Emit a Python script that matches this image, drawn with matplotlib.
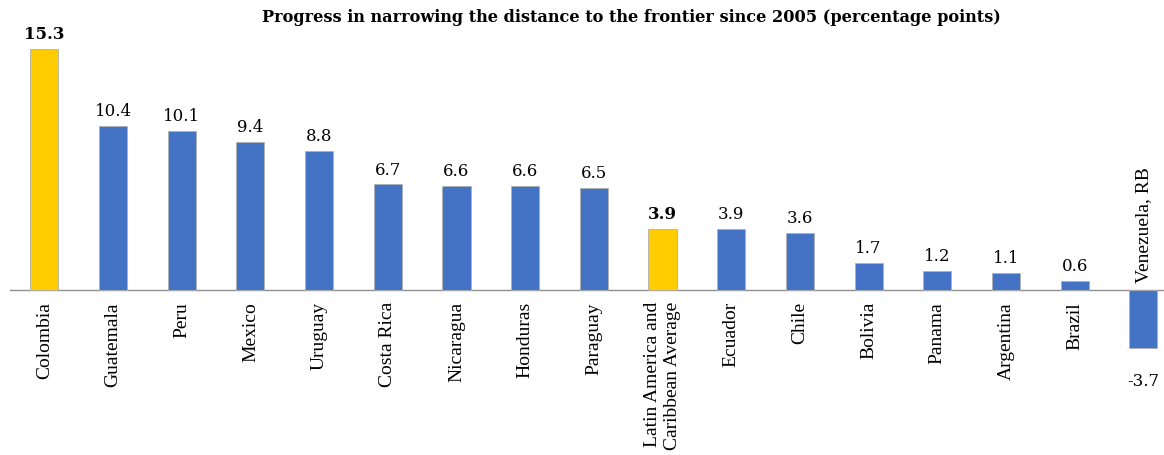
import matplotlib
matplotlib.use("Agg")
import matplotlib.pyplot as plt

countries = ["Colombia", "Guatemala", "Peru", "Mexico", "Uruguay", "Costa Rica",
             "Nicaragua", "Honduras", "Paraguay", "Latin America and\nCaribbean Average",
             "Ecuador", "Chile", "Bolivia", "Panama", "Argentina", "Brazil", "Venezuela, RB"]
values = [15.3, 10.4, 10.1, 9.4, 8.8, 6.7, 6.6, 6.6, 6.5, 3.9, 3.9, 3.6, 1.7, 1.2, 1.1, 0.6, -3.7]
highlight = ["Colombia", "Latin America and\nCaribbean Average"]

BLUE = "#4472C4"
YELLOW = "#FFCC00"

W, H = 1164, 456
fig = plt.figure(figsize=(W / 100, H / 100), dpi=100)
ax = fig.add_axes([10 / W, 0, (W - 10) / W, 1])

x = list(range(len(countries)))
colors = [YELLOW if c in highlight else BLUE for c in countries]
ax.bar(x, values, width=0.41, color=colors, edgecolor="#b0b0b0", linewidth=0.6, zorder=2)

# zero line
ax.axhline(0, color="#909090", linewidth=1.0, zorder=1)

ax.set_xlim(-0.5, 16.3)
ax.set_ylim(-10.48, 18.48)
ax.axis("off")

for i, (c, v) in enumerate(zip(countries, values)):
    bold = c in highlight
    if v >= 0:
        ax.annotate(f"{v:.1f}", (i, v), xytext=(0, 5), textcoords="offset points",
                    ha="center", va="bottom", fontsize=12, family="DejaVu Serif",
                    fontweight="bold" if bold else "normal")
        ax.annotate(c, (i, 0), xytext=(0, -8), textcoords="offset points",
                    ha="center", va="top", rotation=90, multialignment="right",
                    fontsize=14, family="Liberation Serif")
    else:
        ax.annotate(f"{v:.1f}", (i, v), xytext=(0, -17), textcoords="offset points",
                    ha="center", va="top", fontsize=12, family="DejaVu Serif")
        ax.annotate(c, (i, 0), xytext=(0, 6), textcoords="offset points",
                    ha="center", va="bottom", rotation=90,
                    fontsize=14, family="Liberation Serif")

fig.text(631 / W, 1 - 18 / H, "Progress in narrowing the distance to the frontier since 2005 (percentage points)",
         ha="center", va="center", fontsize=11.6, fontweight="bold", family="DejaVu Serif")

fig.savefig("out.png", dpi=100)
